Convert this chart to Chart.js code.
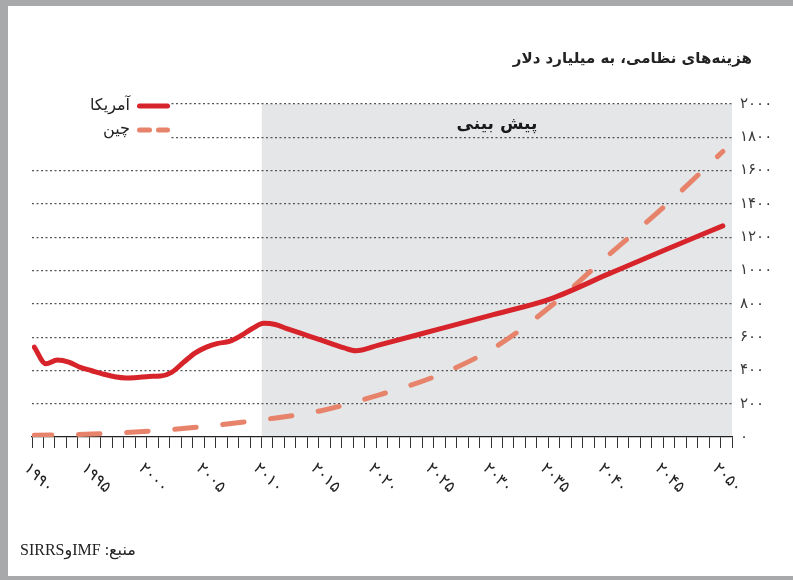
<!DOCTYPE html>
<html lang="fa">
<head>
<meta charset="UTF-8">
<title>هزینه‌های نظامی</title>
<script src="https://cdn.jsdelivr.net/npm/chart.js"></script>
<style>
  html, body { margin: 0; padding: 0; background: #fff; }
  .page { position: relative; width: 793px; height: 580px; overflow: hidden; }
  #chart { position: absolute; left: 0; top: 0; }
  .edge { position: absolute; background: #a7a9ab; }
  .title { position: absolute; right: 41px; top: 49px; direction: rtl;
           font: bold 15px "DejaVu Sans", sans-serif; color: #222; white-space: nowrap; }
  .source { position: absolute; left: 20px; top: 540px; direction: rtl;
            font: 16px "Liberation Serif", "DejaVu Sans", serif; color: #222; white-space: nowrap; }
</style>
</head>
<body>
<div class="page">
  <canvas id="chart" width="793" height="580"></canvas>
  <div class="edge" style="left:0;top:0;width:793px;height:6px"></div>
  <div class="edge" style="left:0;top:0;width:8px;height:580px"></div>
  <div class="edge" style="left:0;top:576px;width:793px;height:4px"></div>
  <div class="title">هزینه‌های نظامی، به میلیارد دلار</div>
  <div class="source">منبع: IMFوSIRRS</div>
</div>

<script>
// --- data (billion dollars) ---
const usYears = [1990, 1991, 1992, 1993, 1994, 1995, 1996, 1997, 1998, 1999,
                 2000, 2001, 2002, 2003, 2004, 2005, 2006, 2007, 2008, 2009,
                 2010, 2011, 2012, 2013, 2014, 2015, 2016, 2017, 2018,
                 2020, 2025, 2030, 2035, 2040, 2045, 2050];
const usSpend = [540, 440, 462, 450, 418, 398, 378, 362, 355, 358,
                 364, 366, 390, 448, 504, 540, 562, 574, 608, 652,
                 683, 676, 651, 628, 605, 582, 558, 535, 518,
                 552, 643, 735, 830, 978, 1125, 1268];

const chinaYears = [1990, 1995, 2000, 2005, 2010, 2015, 2020, 2025, 2030, 2035, 2040, 2045, 2050];
const chinaSpend = [10, 18, 35, 65, 105, 158, 252, 366, 533, 785, 1090, 1390, 1715];

const xLabelYears = [1990, 1995, 2000, 2005, 2010, 2015, 2020, 2025, 2030, 2035, 2040, 2045, 2050];
const forecastStart = 2010;
const seriesNames = ['آمریکا', 'چین'];

const fa = n => String(n).replace(/\d/g, d => '۰۱۲۳۴۵۶۷۸۹'[d]);

const RED = '#d7242b';
const SALMON = '#e8836b';

// shaded forecast box, forecast label, rotated year labels and legend
const decor = {
  id: 'decor',
  beforeDraw(chart) {
    const { ctx, chartArea, scales: { x, y } } = chart;
    const left = x.getPixelForValue(forecastStart) - 2;
    const top = y.getPixelForValue(2000);
    ctx.save();
    ctx.fillStyle = '#e5e6e8';
    ctx.fillRect(left, top, chartArea.right - left, y.getPixelForValue(0) - top);
    ctx.restore();
  },
  afterDraw(chart) {
    const { ctx, chartArea, scales: { x } } = chart;
    ctx.save();

    // "forecast" label
    const left = x.getPixelForValue(forecastStart) - 2;
    ctx.fillStyle = '#1a1a1a';
    ctx.font = 'bold 17px "DejaVu Sans"';
    ctx.textAlign = 'center';
    ctx.textBaseline = 'middle';
    ctx.fillText('پیش بینی', (left + chartArea.right) / 2, 125);

    // year labels, rotated down to the right
    ctx.font = '16px "DejaVu Sans"';
    ctx.fillStyle = '#222';
    ctx.textAlign = 'left';
    xLabelYears.forEach(yr => {
      const px = x.getPixelForValue(yr);
      ctx.save();
      ctx.translate(px - 8, chartArea.bottom + 29);
      ctx.rotate(Math.PI / 4);
      ctx.fillText(fa(yr), 0, 0);
      ctx.restore();
    });

    // legend (covers the grid ends)
    ctx.fillStyle = '#fff';
    ctx.fillRect(chartArea.left - 2, 96, 140, 50);
    ctx.font = '16px "DejaVu Sans"';
    ctx.textAlign = 'right';
    ctx.fillStyle = '#222';
    chart.data.datasets.forEach((ds, i) => {
      const ly = 106 + i * 24;
      ctx.fillText(ds.label, 130, ly);
      ctx.beginPath();
      ctx.strokeStyle = ds.borderColor;
      ctx.lineWidth = 5;
      ctx.lineCap = 'round';
      ctx.setLineDash(ds.borderDash ? [10, 9] : []);
      ctx.moveTo(139.5, ly);
      ctx.lineTo(167.5, ly);
      ctx.stroke();
    });
    ctx.restore();
  }
};

new Chart(document.getElementById('chart'), {
  type: 'line',
  data: {
    datasets: [
      {
        label: seriesNames[0],
        data: usYears.map((yr, i) => ({ x: yr, y: usSpend[i] })),
        borderColor: RED,
        borderWidth: 5,
        borderCapStyle: 'round',
        borderJoinStyle: 'round',
        cubicInterpolationMode: 'monotone',
        pointRadius: 0,
        fill: false
      },
      {
        label: seriesNames[1],
        data: chinaYears.map((yr, i) => ({ x: yr, y: chinaSpend[i] })),
        borderColor: SALMON,
        borderWidth: 5,
        borderDash: [21.5, 26.7],
        borderDashOffset: 4,
        borderCapStyle: 'round',
        cubicInterpolationMode: 'monotone',
        pointRadius: 0,
        fill: false
      }
    ]
  },
  options: {
    responsive: false,
    animation: false,
    layout: { padding: { left: 32, top: 104, right: 0, bottom: 0 } },
    plugins: { legend: { display: false }, tooltip: { enabled: false } },
    scales: {
      x: {
        type: 'linear',
        min: 1989.8,
        max: 2050.8,
        afterFit: s => { s.height = 143; },
        ticks: { display: false, stepSize: 1, includeBounds: false },
        grid: { drawOnChartArea: false, drawTicks: true, tickLength: 11, tickColor: '#333', lineWidth: 1 },
        border: { display: true, color: '#222', width: 1.3 }
      },
      y: {
        position: 'right',
        min: 0,
        max: 2000,
        afterFit: s => { s.width = 61; },
        ticks: {
          stepSize: 200,
          padding: 8,
          color: '#3a3a3a',
          font: { family: 'DejaVu Sans', size: 15 },
          callback: v => fa(v)
        },
        grid: {
          drawTicks: false,
          color: c => (c.tick && c.tick.value === 0) ? 'rgba(0,0,0,0)' : '#555',
          lineWidth: 1.2
        },
        border: { display: false, dash: [2, 2.5] }
      }
    }
  },
  plugins: [decor]
});
</script>
</body>
</html>
